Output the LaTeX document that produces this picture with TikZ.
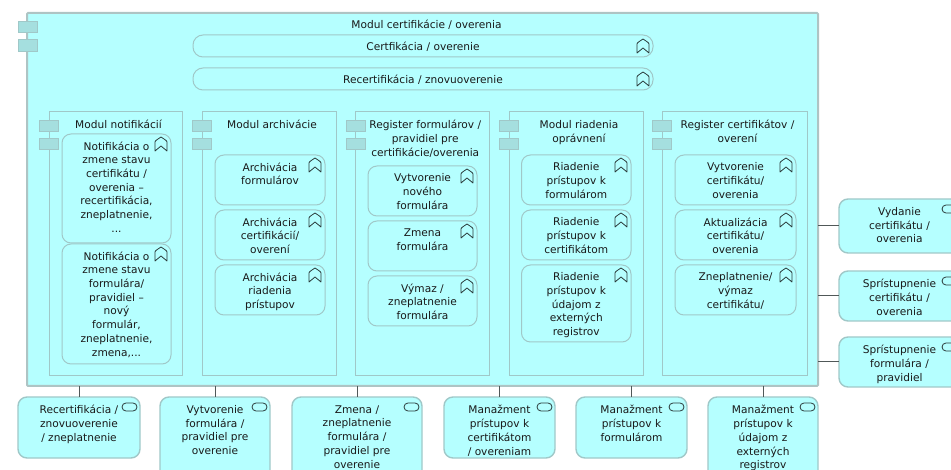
\documentclass[tikz,border=0pt]{standalone}
\usepackage{fontspec}
\setmainfont{DejaVu Sans}
\definecolor{fillc}{HTML}{B5FFFF}
\definecolor{edgec}{HTML}{A0C8C8}
\definecolor{mainc}{HTML}{AEC4C4}
\definecolor{tabc}{HTML}{A5DFDF}
\definecolor{linec}{HTML}{505858}
\definecolor{iconc}{HTML}{2A3A3A}
\tikzset{
  base/.style={draw=edgec,fill=fillc,line width=1pt,inner sep=0pt,outer sep=0pt},
  mainbox/.style={base,line width=2pt,draw=mainc,rounded corners=1pt},
  modbox/.style={base,line width=1pt},
  funcbox/.style={base,line width=1pt,rounded corners=9pt},
  pillbox/.style={base,line width=1pt,rounded corners=10pt},
  extbox/.style={base,line width=1.4pt,rounded corners=9pt},
  tabbox/.style={draw=edgec,fill=tabc,line width=1pt,inner sep=0pt},
  txt/.style={inner sep=0pt,outer sep=0pt,align=center,text=black!90,font=\fontsize{10.6}{13.7}\selectfont},
  conn/.style={draw=linec,line width=1pt},
  icn/.style={draw=iconc,line width=.8pt,line join=round,fill=none}
}
% #1 name #2 x1 #3 y1 #4 x2 #5 y2 #6 style
\newcommand\bx[6]{%
  \pgfmathsetmacro\cxx{(#2+#4)/2}\pgfmathsetmacro\cyy{(#3+#5)/2}%
  \pgfmathsetmacro\ww{#4-#2}\pgfmathsetmacro\hh{#5-#3}%
  \node[#6,minimum width=\ww pt,minimum height=\hh pt] (#1) at (\cxx,\cyy) {};}
% text: #1 name #2 x centre #3 y top #4 text
\newcommand\tx[4]{\node[txt,anchor=north] (#1) at (#2,#3) {#4};}
% process icon, right-top corner
\newcommand\procicon[2]{%
  \draw[icn,shift={(#1,#2)}] (-12,5) .. controls (-12,3.5) and (-8,1.5) .. (-6,0) .. controls (-4,1.5) and (0,3.5) .. (0,5) -- (0,14) -- (-6,9) -- (-12,14) -- cycle;}
\newcommand\svcicon[2]{%
  \draw[icn,shift={(#1,#2)},rounded corners=4pt] (-15,0) rectangle (0,8);}
% function box: name x1 y1 x2 y2 text
\newcommand\fb[6]{\bx{#1}{#2}{#3}{#4}{#5}{funcbox}
  \pgfmathsetmacro\tcx{(#2+#4)/2}\pgfmathsetmacro\tty{#3+7.7}
  \tx{#1t}{\tcx}{\tty}{#6}
  \pgfmathsetmacro\ix{#4-4}\pgfmathsetmacro\iy{#3+3}\procicon{\ix}{\iy}}
% external service box
\newcommand\eb[6]{\bx{#1}{#2}{#3}{#4}{#5}{extbox}
  \pgfmathsetmacro\tcx{(#2+#4)/2}\pgfmathsetmacro\tty{#3+8.5}
  \tx{#1t}{\tcx}{\tty}{#6}
  \pgfmathsetmacro\ix{#4-3}\pgfmathsetmacro\iy{#3+6}\svcicon{\ix}{\iy}}
% module: name x1 x2 text
\newcommand\md[4]{\bx{#1}{#2}{112}{#3}{375.5}{modbox}
  \pgfmathsetmacro\tcx{(#2+#3)/2+3}
  \tx{#1t}{\tcx}{120.5}{#4}
  \pgfmathsetmacro\ta{#2-9.5}\pgfmathsetmacro\tb{#2+9.5}
  \bx{#1a}{\ta}{121}{\tb}{132}{tabbox}
  \bx{#1b}{\ta}{139}{\tb}{150}{tabbox}}
\begin{document}
\begin{tikzpicture}[x=1pt,y=-1pt]
\useasboundingbox (0,0) rectangle (951,470);
\clip (0,0) rectangle (951,470);
% main
\bx{main}{27}{13}{818}{386}{mainbox}
\bx{maina}{18}{22}{37}{33}{tabbox}
\bx{mainb}{18}{40}{37}{52}{tabbox}
\tx{maint}{426.5}{20.5}{Modul certifikácie / overenia}
\bx{p1}{193}{35}{653}{57}{pillbox}
\tx{p1t}{423}{42}{Certfikácia / overenie}
\procicon{649}{39}
\bx{p2}{193}{68}{653}{90}{pillbox}
\tx{p2t}{423}{75}{Recertifikácia / znovuoverenie}
\procicon{649}{72}
% modules
\md{m1}{49}{182}{Modul notifikácií}
\md{m2}{202}{336}{Modul archivácie}
\md{m3}{355.5}{489}{Register formulárov /\\pravidiel pre\\certifikácie/overenia}
\md{m4}{509}{643}{Modul riadenia\\oprávnení}
\md{m5}{662}{807}{Register certifikátov /\\overení}
% functions
\fb{f11}{62}{134}{171}{243}{Notifikácia o\\zmene stavu\\certifikátu /\\overenia –\\recertifikácia,\\zneplatnenie,\\...}
\fb{f12}{62}{244}{171}{364}{Notifikácia o\\zmene stavu\\formulára/\\pravidiel –\\nový\\formulár,\\zneplatnenie,\\zmena,...}
\fb{f21}{215}{155}{325}{205}{Archivácia\\formulárov}
\fb{f22}{215}{210}{325}{260}{Archivácia\\certifikácií/\\overení}
\fb{f23}{215}{265}{325}{315}{Archivácia\\riadenia\\prístupov}
\fb{f31}{368}{166}{477}{216}{Vytvorenie\\nového\\formulára}
\fb{f32}{368}{221}{477}{271}{Zmena\\formulára}
\fb{f33}{368}{276}{477}{326}{Výmaz /\\zneplatnenie\\formulára}
\fb{f41}{521.5}{155}{631}{205}{Riadenie\\prístupov k\\formulárom}
\fb{f42}{521.5}{210}{631}{260}{Riadenie\\prístupov k\\certifikátom}
\fb{f43}{521.5}{265}{631}{342}{Riadenie\\prístupov k\\údajom z\\externých\\registrov}
\fb{f51}{675}{155}{796}{205}{Vytvorenie\\certifikátu/\\overenia}
\fb{f52}{675}{210}{796}{260}{Aktualizácia\\certifikátu/\\overenia}
\fb{f53}{675}{265}{796}{315}{Zneplatnenie/\\výmaz\\certifikátu/}
% external services
\eb{e1}{18}{397}{140}{458}{Recertifikácia /\\znovuoverenie\\/ zneplatnenie}
\eb{e2}{160}{397}{270}{490}{Vytvorenie\\formulára /\\pravidiel pre\\overenie}
\eb{e3}{292}{397}{422}{490}{Zmena /\\zneplatnenie\\formulára /\\pravidiel pre\\overenie}
\eb{e4}{444}{397}{555}{458}{Manažment\\prístupov k\\certifikátom\\/ overeniam}
\eb{e5}{576}{397}{687}{458}{Manažment\\prístupov k\\formulárom}
\eb{e6}{708}{397}{818}{490}{Manažment\\prístupov k\\údajom z\\externých\\registrov}
\eb{r1}{839}{199}{960}{253}{Vydanie\\certifikátu /\\overenia}
\eb{r2}{839}{271}{960}{321}{Sprístupnenie\\certifikátu /\\overenia}
\eb{r3}{839}{337}{960}{387}{Sprístupnenie\\formulára /\\pravidiel}
% connectors
\draw[conn] (main.south -| e1.north) -- (e1.north);
\draw[conn] (main.south -| e2.north) -- (e2.north);
\draw[conn] (main.south -| e3.north) -- (e3.north);
\draw[conn] (main.south -| e4.north) -- (e4.north);
\draw[conn] (main.south -| e5.north) -- (e5.north);
\draw[conn] (main.south -| e6.north) -- (e6.north);
\draw[conn] (main.east |- r1.west) -- (r1.west);
\draw[conn] (main.east |- r2.west) -- (r2.west);
\draw[conn] (main.east |- r3.west) -- (r3.west);
\end{tikzpicture}
\end{document}
